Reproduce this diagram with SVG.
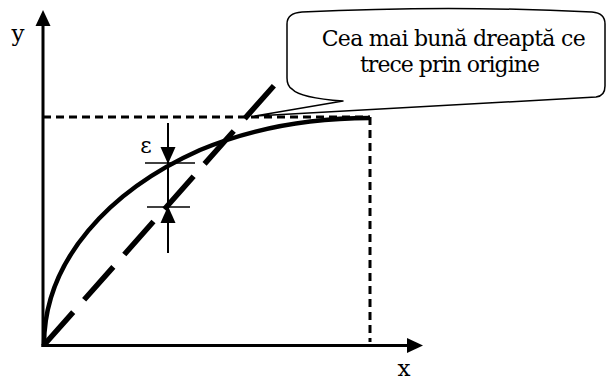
<svg xmlns="http://www.w3.org/2000/svg" width="607" height="380" viewBox="0 0 607 380">
<style>
text{font-family:'DejaVu Serif',serif;fill:#000}
.ax{stroke:#000;stroke-width:3;fill:none}
.dash{stroke:#000;stroke-width:3;fill:none;stroke-dasharray:8 5}
</style>
<rect width="607" height="380" fill="#fff"/>
<g id="axes">
<line class="ax" x1="43" y1="347" x2="43" y2="22"/>
<polygon points="43,10 35.5,26 50.5,26" fill="#000"/>
<line class="ax" x1="41.5" y1="345.5" x2="410" y2="345.5"/>
<polygon points="423,345.5 407,338 407,353" fill="#000"/>
<text x="18" y="41" font-size="23" text-anchor="middle">y</text>
<text x="404" y="376" font-size="23" text-anchor="middle">x</text>
</g>
<g id="guides">
<line class="dash" x1="43" y1="117" x2="370" y2="117"/>
<line class="dash" x1="370" y1="117" x2="370" y2="342"/>
</g>
<g id="curve">
<path d="M44,345 C44,260 110,190 200,150 C260,125 320,118 370,118" fill="none" stroke="#000" stroke-width="4.5"/>
</g>
<g id="fit-line">
<line x1="44" y1="345" x2="279" y2="80" stroke="#000" stroke-width="5.5" stroke-dasharray="44 16.5"/>
</g>
<g id="epsilon">
<line x1="168" y1="123" x2="168" y2="253" stroke="#000" stroke-width="2"/>
<polygon points="168,164 160.5,147 175.5,147" fill="#000"/>
<polygon points="168,206 160.5,223 175.5,223" fill="#000"/>
<line x1="145" y1="163" x2="195" y2="163" stroke="#000" stroke-width="1.5"/>
<line x1="147" y1="207" x2="190" y2="207" stroke="#000" stroke-width="1.5"/>
<text x="146" y="153" font-size="22" text-anchor="middle">ε</text>
</g>
<g id="callout">
<path d="M255,116 L343,101 Q300,98 292,89 Q287,86 287,78 L287,24 Q287,13 302,12 Q450,5 592,12 Q605,13 605,24 L605,86 Q605,96 596,97 L255,116 Z" fill="#fff" stroke="#000" stroke-width="1.5" stroke-linejoin="round"/>
<text x="453.7" y="46" font-size="22" text-anchor="middle" textLength="264" lengthAdjust="spacing">Cea mai bună dreaptă ce</text>
<text x="450" y="72" font-size="22" text-anchor="middle" textLength="180" lengthAdjust="spacing">trece prin origine</text>
</g>
</svg>
